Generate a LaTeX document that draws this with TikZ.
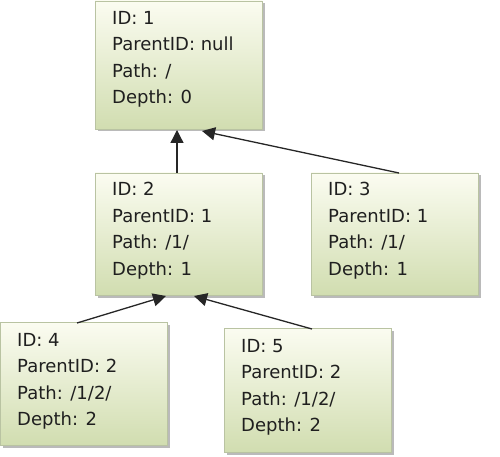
\documentclass[tikz,border=0pt]{standalone}
\usepackage{fontspec}
\setmainfont{DejaVu Sans}
\usetikzlibrary{shadows,arrows.meta}
\definecolor{boxtop}{HTML}{FBFCF1}
\definecolor{boxbot}{HTML}{D1DDB0}
\definecolor{boxline}{HTML}{B9C3A2}
\tikzset{
  rec/.style={draw=boxline, line width=0.8pt, top color=boxtop, bottom color=boxbot,
    minimum width=167pt, minimum height=125pt, anchor=north west,
    inner sep=0pt, outer sep=0pt,
    drop shadow={shadow xshift=2.5pt, shadow yshift=-2.5pt, fill=black!45, opacity=0.6}},
  txt/.style={anchor=north west, align=left, font=\fontsize{18}{26.5}\selectfont, inner sep=0pt, text=black!88},
  link/.style={-{Triangle[length=13pt,width=13pt]}, line width=1.3pt, black!85}
}
\begin{document}
\begin{tikzpicture}[x=1pt,y=-1pt]
\useasboundingbox (0,0) rectangle (500,457);
\node[rec, minimum height=128pt] (n1) at (95,1) {};
\node[rec, minimum height=122pt] (n2) at (95,173) {};
\node[rec, minimum height=122pt] (n3) at (311,173) {};
\node[rec, minimum height=123pt] (n4) at (0.5,322) {};
\node[rec, minimum height=124pt] (n5) at (224,328) {};
\node[txt] (t1) at (112,11) {ID: 1\\ParentID: null\\Path: /\\Depth: 0};
\node[txt] (t2) at (112,182) {ID: 2\\ParentID: 1\\Path: /1/\\Depth: 1};
\node[txt] (t3) at (328,182) {ID: 3\\ParentID: 1\\Path: /1/\\Depth: 1};
\node[txt] (t4) at (17,333) {ID: 4\\ParentID: 2\\Path: /1/2/\\Depth: 2};
\node[txt] (t5) at (241,339) {ID: 5\\ParentID: 2\\Path: /1/2/\\Depth: 2};
\coordinate (a1) at (177,130);
\coordinate (b1) at (202,131);
\coordinate (a2) at (166,296);
\coordinate (b2) at (194,296);
\draw[link] (n2.north west) ++(82,0) -- (a1);
\draw[link] (n3.north west) ++(88,0) -- (b1);
\draw[link] (n4.north west) ++(76.5,1) -- (a2);
\draw[link] (n5.north west) ++(88,1) -- (b2);
\end{tikzpicture}
\end{document}
